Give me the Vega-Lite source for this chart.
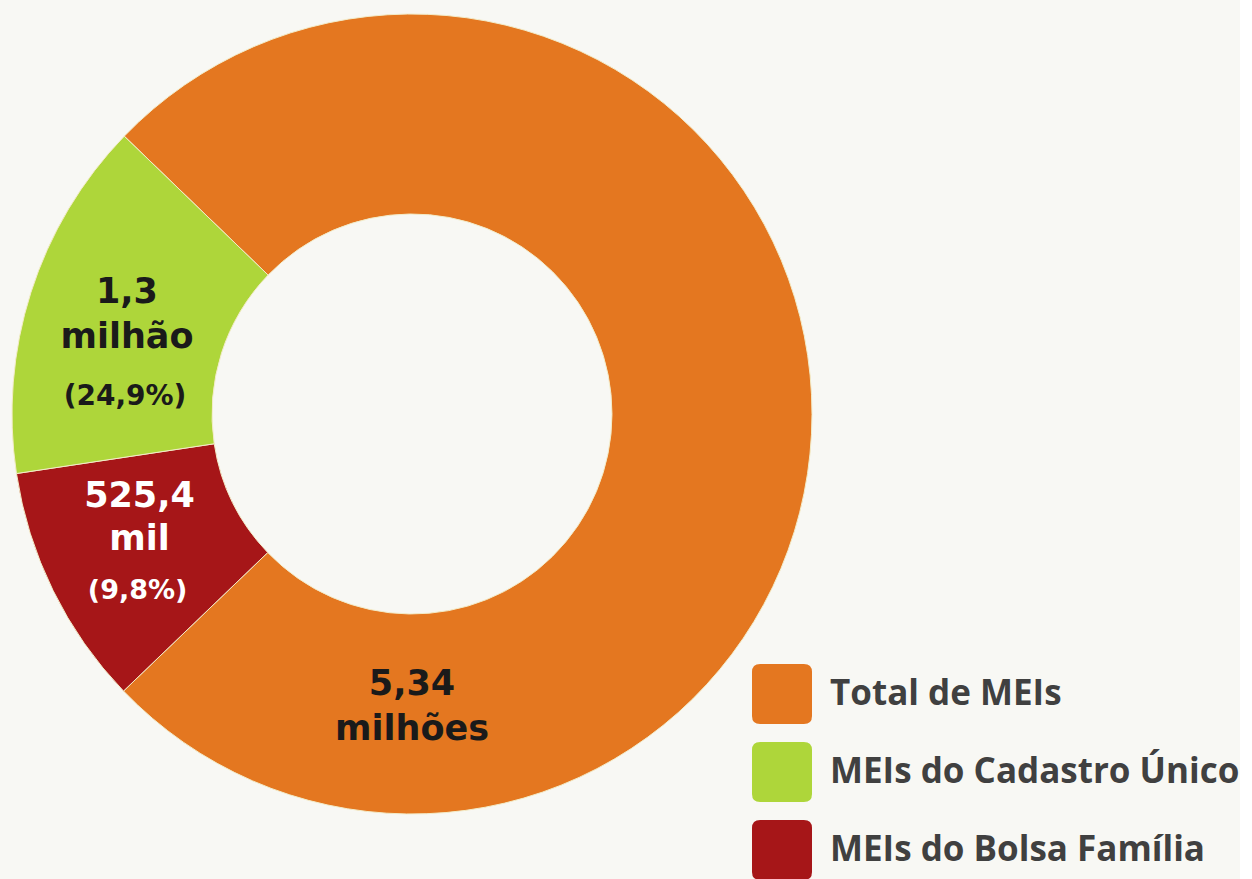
{
  "$schema": "https://vega.github.io/schema/vega-lite/v6.json",
  "width": 800,
  "height": 800,
  "padding": {"left": 10, "top": 12, "right": 0, "bottom": 0},
  "autosize": {"type": "pad"},
  "background": "#f8f8f4",
  "config": {"view": {"stroke": null}},
  "data": {
    "values": [
      {"categoria": "Total de MEIs", "valor": 75.6, "ordem": 1, "rotulo": "5,34\nmilhões", "pct": ""},
      {"categoria": "MEIs do Bolsa Família", "valor": 9.8, "ordem": 2, "rotulo": "525,4\nmil", "pct": "(9,8%)"},
      {"categoria": "MEIs do Cadastro Único", "valor": 14.6, "ordem": 3, "rotulo": "1,3\nmilhão", "pct": "(24,9%)"}
    ]
  },
  "transform": [
    {"stack": "valor", "groupby": [], "sort": [{"field": "ordem", "order": "ascending"}], "as": ["t0", "t1"]}
  ],
  "layer": [
    {
      "mark": {"type": "arc", "innerRadius": 200, "outerRadius": 400, "stroke": "#f3ecc8", "strokeWidth": 1},
      "encoding": {
        "theta": {"field": "t0", "type": "quantitative", "stack": null, "scale": {"domain": [0, 100], "range": [-0.8029, 5.4803]}},
        "theta2": {"field": "t1"},
        "color": {
          "field": "categoria",
          "type": "nominal",
          "scale": {
            "domain": ["Total de MEIs", "MEIs do Cadastro Único", "MEIs do Bolsa Família"],
            "range": ["#E47720", "#AED63A", "#A61618"]
          },
          "legend": {
            "title": null,
            "orient": "none",
            "legendX": 740,
            "legendY": 650,
            "padding": 0,
            "symbolType": "M-0.73,-1H0.73Q1,-1,1,-0.73V0.73Q1,1,0.73,1H-0.73Q-1,1,-1,0.73V-0.73Q-1,-1,-0.73,-1Z",
            "symbolSize": 3600,
            "symbolStrokeWidth": 0,
            "symbolOpacity": 1,
            "labelFont": "Open Sans",
            "labelFontWeight": "bold",
            "labelFontSize": 35,
            "labelColor": "#404040",
            "labelOffset": 18,
            "rowPadding": 18,
            "labelLimit": 700
          }
        }
      }
    },
    {
      "transform": [{"filter": {"field": "ordem", "equal": 1}}],
      "mark": {"type": "text", "radius": 269.5, "thetaOffset": 3.9444, "font": "DejaVu Sans", "fontWeight": "bold", "fontSize": 35, "lineHeight": 45, "lineBreak": "\n", "align": "center", "baseline": "middle", "color": "#1a1a1a"},
      "encoding": {
        "theta": {"field": "t0", "type": "quantitative", "stack": null},
        "text": {"field": "rotulo"}
      }
    },
    {
      "transform": [{"filter": {"field": "ordem", "equal": 2}}],
      "mark": {"type": "text", "radius": 284.7, "thetaOffset": 0.4712, "font": "DejaVu Sans", "fontWeight": "bold", "fontSize": 35, "lineHeight": 43, "lineBreak": "\n", "align": "center", "baseline": "middle", "color": "#ffffff"},
      "encoding": {
        "theta": {"field": "t0", "type": "quantitative", "stack": null},
        "text": {"field": "rotulo"}
      }
    },
    {
      "transform": [{"filter": {"field": "ordem", "equal": 2}}],
      "mark": {"type": "text", "radius": 326.6, "thetaOffset": 0.192, "font": "DejaVu Sans", "fontWeight": "bold", "fontSize": 27, "align": "center", "baseline": "middle", "color": "#ffffff"},
      "encoding": {
        "theta": {"field": "t0", "type": "quantitative", "stack": null},
        "text": {"field": "pct"}
      }
    },
    {
      "transform": [{"filter": {"field": "ordem", "equal": 3}}],
      "mark": {"type": "text", "radius": 310, "thetaOffset": 0.5533, "font": "DejaVu Sans", "fontWeight": "bold", "fontSize": 35, "lineHeight": 45, "lineBreak": "\n", "align": "center", "baseline": "middle", "color": "#1a1a1a"},
      "encoding": {
        "theta": {"field": "t0", "type": "quantitative", "stack": null},
        "text": {"field": "rotulo"}
      }
    },
    {
      "transform": [{"filter": {"field": "ordem", "equal": 3}}],
      "mark": {"type": "text", "radius": 287.5, "thetaOffset": 0.2077, "font": "DejaVu Sans", "fontWeight": "bold", "fontSize": 28, "align": "center", "baseline": "middle", "color": "#1a1a1a"},
      "encoding": {
        "theta": {"field": "t0", "type": "quantitative", "stack": null},
        "text": {"field": "pct"}
      }
    }
  ]
}
